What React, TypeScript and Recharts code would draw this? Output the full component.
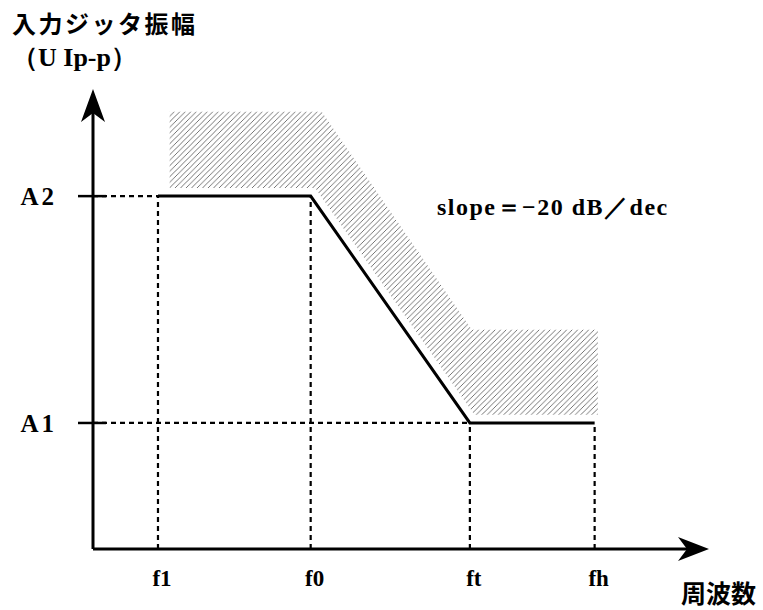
import {
  ComposedChart,
  Area,
  Line,
  Scatter,
  XAxis,
  YAxis,
  ReferenceLine,
} from 'recharts'

// frequency break points (arbitrary log-f units) and axis tips
const xTicks = [1.0, 3.35, 5.8, 7.72]
const xTickLabels = ['f1', 'f0', 'ft', 'fh']
const yTicks = [2.0, 5.6]
const yTickLabels = ['A1', 'A2']
const xMax = 9.48
const yMax = 7.3

// tolerance mask (solid line)
const maskX = [1.0, 3.35, 5.8, 7.72]
const maskY = [5.6, 5.6, 2.0, 2.0]

// hatched region: [lower, upper] at each x
const hatchX = [1.18, 3.42, 3.52, 5.83, 5.87, 7.77]
const hatchLo = [5.73, 5.73, 5.58, 2.19, 2.13, 2.13]
const hatchHi = [6.94, 6.94, 6.94, 3.48, 3.48, 3.48]

const hatchData = hatchX.map((x, i) => ({ x, band: [hatchLo[i], hatchHi[i]] }))
const maskData = maskX.map((x, i) => ({ x, y: maskY[i] }))

const W = 763
const H = 610

const ArrowRight = (p: any) => {
  const { cx, cy } = p
  return <polygon points={`${cx},${cy} ${cx - 31},${cy - 12} ${cx - 22},${cy} ${cx - 31},${cy + 12}`} fill="#000" />
}
const ArrowUp = (p: any) => {
  const { cx, cy } = p
  return <polygon points={`${cx},${cy} ${cx - 12},${cy + 33} ${cx},${cy + 24} ${cx + 12},${cy + 33}`} fill="#000" />
}

const YTick = (p: any) => {
  const { x, y, payload } = p
  const i = yTicks.indexOf(payload.value)
  return (
    <g>
      <line x1={x - 15} x2={x + 13} y1={y} y2={y} stroke="#000" strokeWidth={2.5} />
      <text x={x - 36} y={y} dy={9} textAnchor="end" fontFamily="Liberation Serif" fontWeight="bold" fontSize={25} letterSpacing={3} fill="#000">
        {yTickLabels[i]}
      </text>
    </g>
  )
}

const XTick = (p: any) => {
  const { x, y, payload } = p
  const i = xTicks.indexOf(payload.value)
  return (
    <text x={x + 4} y={y} dy={29} textAnchor="middle" fontFamily="Liberation Serif" fontWeight="bold" fontSize={23} fill="#000">
      {xTickLabels[i]}
    </text>
  )
}

const dash = { stroke: '#000', strokeWidth: 2.2, strokeDasharray: '5 4' }

export default function App() {
  return (
    <div style={{ position: 'absolute', left: 0, top: 0, width: W, height: H, background: '#fff' }}>
      <div style={{ position: 'absolute', left: 12, top: 5, fontFamily: 'Noto Sans CJK JP', fontWeight: 'bold', fontSize: 24, letterSpacing: 2.5 }}>
        入力ジッタ振幅
      </div>
      <div style={{ position: 'absolute', left: 12, top: 40, fontFamily: 'Liberation Serif', fontWeight: 'bold', fontSize: 26 }}>
        （U Ip-p）
      </div>
      <div style={{ position: 'absolute', left: 437, top: 191, fontFamily: 'Liberation Serif', fontWeight: 'bold', fontSize: 24, letterSpacing: 1.5, whiteSpace: 'pre' }}>
        slope＝−20 dB／dec
      </div>
      <div style={{ position: 'absolute', left: 681, top: 574, fontFamily: 'Noto Sans CJK JP', fontWeight: 'bold', fontSize: 25 }}>
        周波数
      </div>
      <ComposedChart width={W} height={H} data={hatchData} margin={{ top: 89, right: 54, left: 0, bottom: 0 }}>
        <defs>
          <pattern id="hatch" patternUnits="userSpaceOnUse" width="5.5" height="5.5">
            <path d="M-1,1 l2,-2 M0,5.5 l5.5,-5.5 M4.5,6.5 l2,-2" stroke="#666" strokeWidth={0.9} />
          </pattern>
        </defs>
        <XAxis
          type="number"
          dataKey="x"
          domain={[0, xMax]}
          ticks={xTicks}
          tick={<XTick />}
          axisLine={false}
          tickLine={false}
          height={61}
        />
        <YAxis
          type="number"
          domain={[0, yMax]}
          ticks={yTicks}
          tick={<YTick />}
          axisLine={false}
          tickLine={false}
          tickSize={0}
          tickMargin={0}
          width={93}
        />
        <Area
          type="linear"
          dataKey="band"
          fill="url(#hatch)"
          fillOpacity={1}
          stroke="none"
          dot={false}
          activeDot={false}
          isAnimationActive={false}
        />
        <ReferenceLine segment={[{ x: 0, y: yTicks[1] }, { x: xTicks[0], y: yTicks[1] }]} {...dash} />
        <ReferenceLine segment={[{ x: 0, y: yTicks[0] }, { x: xTicks[2], y: yTicks[0] }]} {...dash} />
        <ReferenceLine segment={[{ x: xTicks[0], y: 0 }, { x: xTicks[0], y: yTicks[1] }]} {...dash} />
        <ReferenceLine segment={[{ x: xTicks[1], y: 0 }, { x: xTicks[1], y: yTicks[1] }]} {...dash} />
        <ReferenceLine segment={[{ x: xTicks[2], y: 0 }, { x: xTicks[2], y: yTicks[0] }]} {...dash} />
        <ReferenceLine segment={[{ x: xTicks[3], y: 0 }, { x: xTicks[3], y: yTicks[0] }]} {...dash} />
        <ReferenceLine segment={[{ x: 0, y: 0 }, { x: xMax - 0.3, y: 0 }]} stroke="#000" strokeWidth={3} />
        <ReferenceLine segment={[{ x: 0, y: 0 }, { x: 0, y: yMax - 0.3 }]} stroke="#000" strokeWidth={3} />
        <Line
          data={maskData}
          type="linear"
          dataKey="y"
          stroke="#000"
          strokeWidth={3}
          dot={false}
          activeDot={false}
          isAnimationActive={false}
        />
        <Scatter data={[{ x: xMax, y: 0 }]} dataKey="y" shape={ArrowRight} isAnimationActive={false} />
        <Scatter data={[{ x: 0, y: yMax }]} dataKey="y" shape={ArrowUp} isAnimationActive={false} />
      </ComposedChart>
    </div>
  )
}
